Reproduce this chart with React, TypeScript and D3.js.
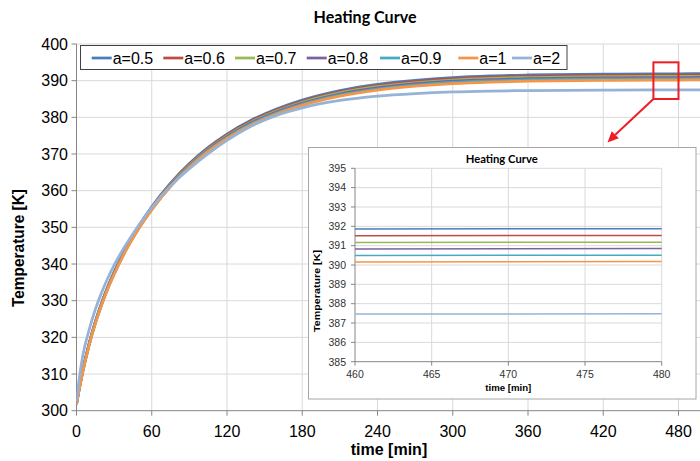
import React from 'react';
import * as d3 from 'd3';

const times = [0, 2, 5, 10, 15, 20, 25, 30, 40, 50, 60, 75, 90, 105, 120, 140, 160, 180, 210, 240, 270, 300, 330, 360, 420, 460, 480, 500];
const seriesLabels = ['a=0.5', 'a=0.6', 'a=0.7', 'a=0.8', 'a=0.9', 'a=1', 'a=2'];
const a05 = [302, 305.84, 311.0, 318.25, 324.25, 329.38, 333.85, 337.83, 344.73, 350.58, 355.63, 362.08, 367.41, 371.8, 375.44, 379.34, 382.34, 384.7, 387.3, 389.0, 390.1, 390.85, 391.3, 391.55, 391.78, 391.86, 391.88, 391.9];
const a06 = [301.93, 305.77, 310.91, 318.14, 324.14, 329.26, 333.73, 337.69, 344.59, 350.42, 355.45, 361.89, 367.2, 371.57, 375.19, 379.08, 382.06, 384.4, 386.98, 388.67, 389.77, 390.51, 390.96, 391.2, 391.43, 391.51, 391.53, 391.55];
const a07 = [301.86, 305.7, 310.82, 318.04, 324.04, 329.13, 333.6, 337.55, 344.45, 350.26, 355.28, 361.69, 366.99, 371.34, 374.95, 378.81, 381.78, 384.1, 386.67, 388.35, 389.43, 390.17, 390.61, 390.86, 391.08, 391.16, 391.18, 391.2];
const a08 = [301.79, 305.63, 310.74, 317.94, 323.94, 329.02, 333.49, 337.42, 344.32, 350.12, 355.11, 361.51, 366.79, 371.13, 374.72, 378.57, 381.52, 383.82, 386.37, 388.04, 389.12, 389.85, 390.29, 390.53, 390.75, 390.83, 390.85, 390.87];
const a09 = [301.73, 305.57, 310.66, 317.84, 323.84, 328.9, 333.37, 337.28, 344.18, 349.96, 354.94, 361.33, 366.59, 370.91, 374.48, 378.31, 381.24, 383.54, 386.07, 387.73, 388.8, 389.52, 389.96, 390.19, 390.41, 390.49, 390.51, 390.53];
const a1 = [301.66, 305.5, 310.57, 317.74, 323.74, 328.78, 333.25, 337.15, 344.05, 349.81, 354.78, 361.14, 366.39, 370.7, 374.25, 378.06, 380.98, 383.25, 385.77, 387.42, 388.48, 389.2, 389.63, 389.87, 390.08, 390.16, 390.18, 390.2];
const a2 = [302.5, 308.3, 315.0, 322.0, 327.6, 332.2, 336.2, 339.7, 345.6, 350.8, 355.4, 361.3, 366.0, 370.1, 373.7, 377.7, 380.6, 382.6, 384.6, 385.8, 386.5, 386.95, 387.18, 387.3, 387.42, 387.46, 387.48, 387.5];
const seriesValues = [a05, a06, a07, a08, a09, a1, a2];
const seriesColors = ['#4A7EBB', '#BE4B48', '#98B954', '#7D60A0', '#46AAC5', '#F69545', '#95B3D7'];

const xTicks = [0, 60, 120, 180, 240, 300, 360, 420, 480];
const yTicks = [300, 310, 320, 330, 340, 350, 360, 370, 380, 390, 400];
const insetXTicks = [460, 465, 470, 475, 480];
const insetYTicks = [385, 386, 387, 388, 389, 390, 391, 392, 393, 394, 395];

const W = 700, H = 461;
const legendX = [91.7, 163.3, 235, 306.7, 380, 458.3, 512];

export default function App() {
  const x = d3.scaleLinear().domain([0, 480]).range([76.5, 678.5]);
  const y = d3.scaleLinear().domain([300, 400]).range([410.7, 44]);
  const ix = d3.scaleLinear().domain([460, 480]).range([355, 661.7]);
  const iy = d3.scaleLinear().domain([385, 395]).range([361.7, 168.3]);

  const data = seriesValues.map(vals => times.map((t, i) => ({ t, v: vals[i] })));
  const line = d3.line<{ t: number; v: number }>().x(d => x(d.t)).y(d => y(d.v)).curve(d3.curveMonotoneX);
  const iline = d3.line<{ t: number; v: number }>().x(d => ix(d.t)).y(d => iy(d.v));

  const grid = '#d9d9d9';
  const axis = '#868686';
  const sans = '"Liberation Sans", Arial, sans-serif';
  const titleFont = 'Lato, "Open Sans", sans-serif';

  const bx0 = x(460), bx1 = x(480), by0 = y(395), by1 = y(385);
  const tip = [607.5, 142.5];
  const ux = -0.7071, uy = 0.7071;
  const bc = [tip[0] - 11 * ux, tip[1] - 11 * uy];
  const nx = 0.7071, ny = 0.7071;
  const head = `${tip[0]},${tip[1]} ${bc[0] + 5 * nx},${bc[1] + 5 * ny} ${bc[0] - 5 * nx},${bc[1] - 5 * ny}`;

  return (
    <svg width={W} height={H} style={{ position: 'absolute', left: 0, top: 0, background: '#fff' }}>
      <defs>
        <clipPath id="plotClip">
          <rect x={x(0)} y={0} width={W - x(0)} height={y(300)} />
        </clipPath>
        <clipPath id="insetClip">
          <rect x={ix(460)} y={iy(395) - 2} width={ix(480) - ix(460) + 1} height={iy(385) - iy(395) + 2} />
        </clipPath>
      </defs>
      <rect x={0} y={0} width={W} height={H} fill="#fff" />
      <text x={365} y={23} textAnchor="middle" fontFamily={titleFont} fontWeight="bold" fontSize={17} textLength={103} lengthAdjust="spacingAndGlyphs" fill="#000">Heating Curve</text>

      {yTicks.filter(v => v !== 300).map(v => (
        <line key={'gy' + v} x1={x(0)} x2={W} y1={y(v)} y2={y(v)} stroke={grid} strokeWidth={1} />
      ))}
      {xTicks.filter(v => v !== 0).map(v => (
        <line key={'gx' + v} x1={x(v)} x2={x(v)} y1={y(400)} y2={y(300)} stroke={grid} strokeWidth={1} />
      ))}
      <line x1={x(0)} x2={x(0)} y1={y(400)} y2={y(300)} stroke={axis} strokeWidth={1} />
      <line x1={x(0)} x2={W} y1={y(300)} y2={y(300)} stroke={axis} strokeWidth={1} />
      {yTicks.map(v => (
        <g key={'ty' + v}>
          <line x1={x(0) - 5} x2={x(0)} y1={y(v)} y2={y(v)} stroke={axis} />
          <text x={68} y={y(v) + 5.5} textAnchor="end" fontFamily={sans} fontSize={16} fill="#000">{v}</text>
        </g>
      ))}
      {xTicks.map(v => (
        <g key={'tx' + v}>
          <line x1={x(v)} x2={x(v)} y1={y(300)} y2={y(300) + 5} stroke={axis} />
          <text x={x(v)} y={437} textAnchor="middle" fontFamily={sans} fontSize={16} fill="#000">{v}</text>
        </g>
      ))}
      <text transform={`translate(24,248) rotate(-90)`} textAnchor="middle" fontFamily={sans} fontWeight="bold" fontSize={16} textLength={118} lengthAdjust="spacingAndGlyphs" fill="#000">Temperature [K]</text>
      <text x={389} y={455} textAnchor="middle" fontFamily={sans} fontWeight="bold" fontSize={16} fill="#000">time [min]</text>

      <g clipPath="url(#plotClip)">
        {data.map((d, i) => (
          <path key={'s' + i} d={line(d) || ''} fill="none" stroke={seriesColors[i]} strokeWidth={2.75} strokeLinejoin="round" />
        ))}
      </g>

      <rect x={80.5} y={45.5} width={486.5} height={24} fill="#fff" stroke="#404040" strokeWidth={1} />
      {seriesLabels.map((s, i) => (
        <g key={'lg' + i}>
          <line x1={legendX[i]} x2={legendX[i] + 20} y1={58} y2={58} stroke={seriesColors[i]} strokeWidth={2.75} />
          <text x={legendX[i] + 21} y={63.5} fontFamily={sans} fontSize={16} fill="#000">{s}</text>
        </g>
      ))}

      <rect x={bx0} y={by0} width={bx1 - bx0} height={by1 - by0} fill="none" stroke="#ee1c24" strokeWidth={2} />
      <line x1={bx0} y1={by1} x2={bc[0]} y2={bc[1]} stroke="#ee1c24" strokeWidth={2} />
      <polygon points={head} fill="#ee1c24" />

      <rect x={308.5} y={147.5} width={387.5} height={251.5} fill="#fff" stroke="#a6a6a6" strokeWidth={1} />
      <text x={501.7} y={162.5} textAnchor="middle" fontFamily={titleFont} fontWeight="bold" fontSize={11} textLength={72} lengthAdjust="spacingAndGlyphs" fill="#000">Heating Curve</text>
      {insetYTicks.filter(v => v !== 385).map(v => (
        <line key={'igy' + v} x1={ix(460)} x2={ix(480)} y1={iy(v)} y2={iy(v)} stroke={grid} strokeWidth={1} />
      ))}
      {insetXTicks.filter(v => v !== 460).map(v => (
        <line key={'igx' + v} x1={ix(v)} x2={ix(v)} y1={iy(395)} y2={iy(385)} stroke={grid} strokeWidth={1} />
      ))}
      <line x1={ix(460)} x2={ix(460)} y1={iy(395)} y2={iy(385)} stroke={axis} />
      <line x1={ix(460)} x2={ix(480)} y1={iy(385)} y2={iy(385)} stroke={axis} />
      {insetYTicks.map(v => (
        <g key={'ity' + v}>
          <line x1={ix(460) - 4} x2={ix(460)} y1={iy(v)} y2={iy(v)} stroke={axis} />
          <text x={346} y={iy(v) + 3.8} textAnchor="end" fontFamily={sans} fontSize={10.5} fill="#333">{v}</text>
        </g>
      ))}
      {insetXTicks.map(v => (
        <g key={'itx' + v}>
          <line x1={ix(v)} x2={ix(v)} y1={iy(385)} y2={iy(385) + 4} stroke={axis} />
          <text x={ix(v)} y={378} textAnchor="middle" fontFamily={sans} fontSize={10.5} fill="#333">{v}</text>
        </g>
      ))}
      <text transform={`translate(319.5,291) rotate(-90)`} textAnchor="middle" fontFamily={sans} fontWeight="bold" fontSize={9} textLength={82} lengthAdjust="spacingAndGlyphs" fill="#000">Temperature [K]</text>
      <text x={508.3} y={390.5} textAnchor="middle" fontFamily={sans} fontWeight="bold" fontSize={9} textLength={46} lengthAdjust="spacingAndGlyphs" fill="#000">time [min]</text>
      <g clipPath="url(#insetClip)">
        {data.map((d, i) => (
          <path key={'is' + i} d={iline(d.filter(p => p.t >= 460 && p.t <= 480)) || ''} fill="none" stroke={seriesColors[i]} strokeWidth={1.5} />
        ))}
      </g>
    </svg>
  );
}
